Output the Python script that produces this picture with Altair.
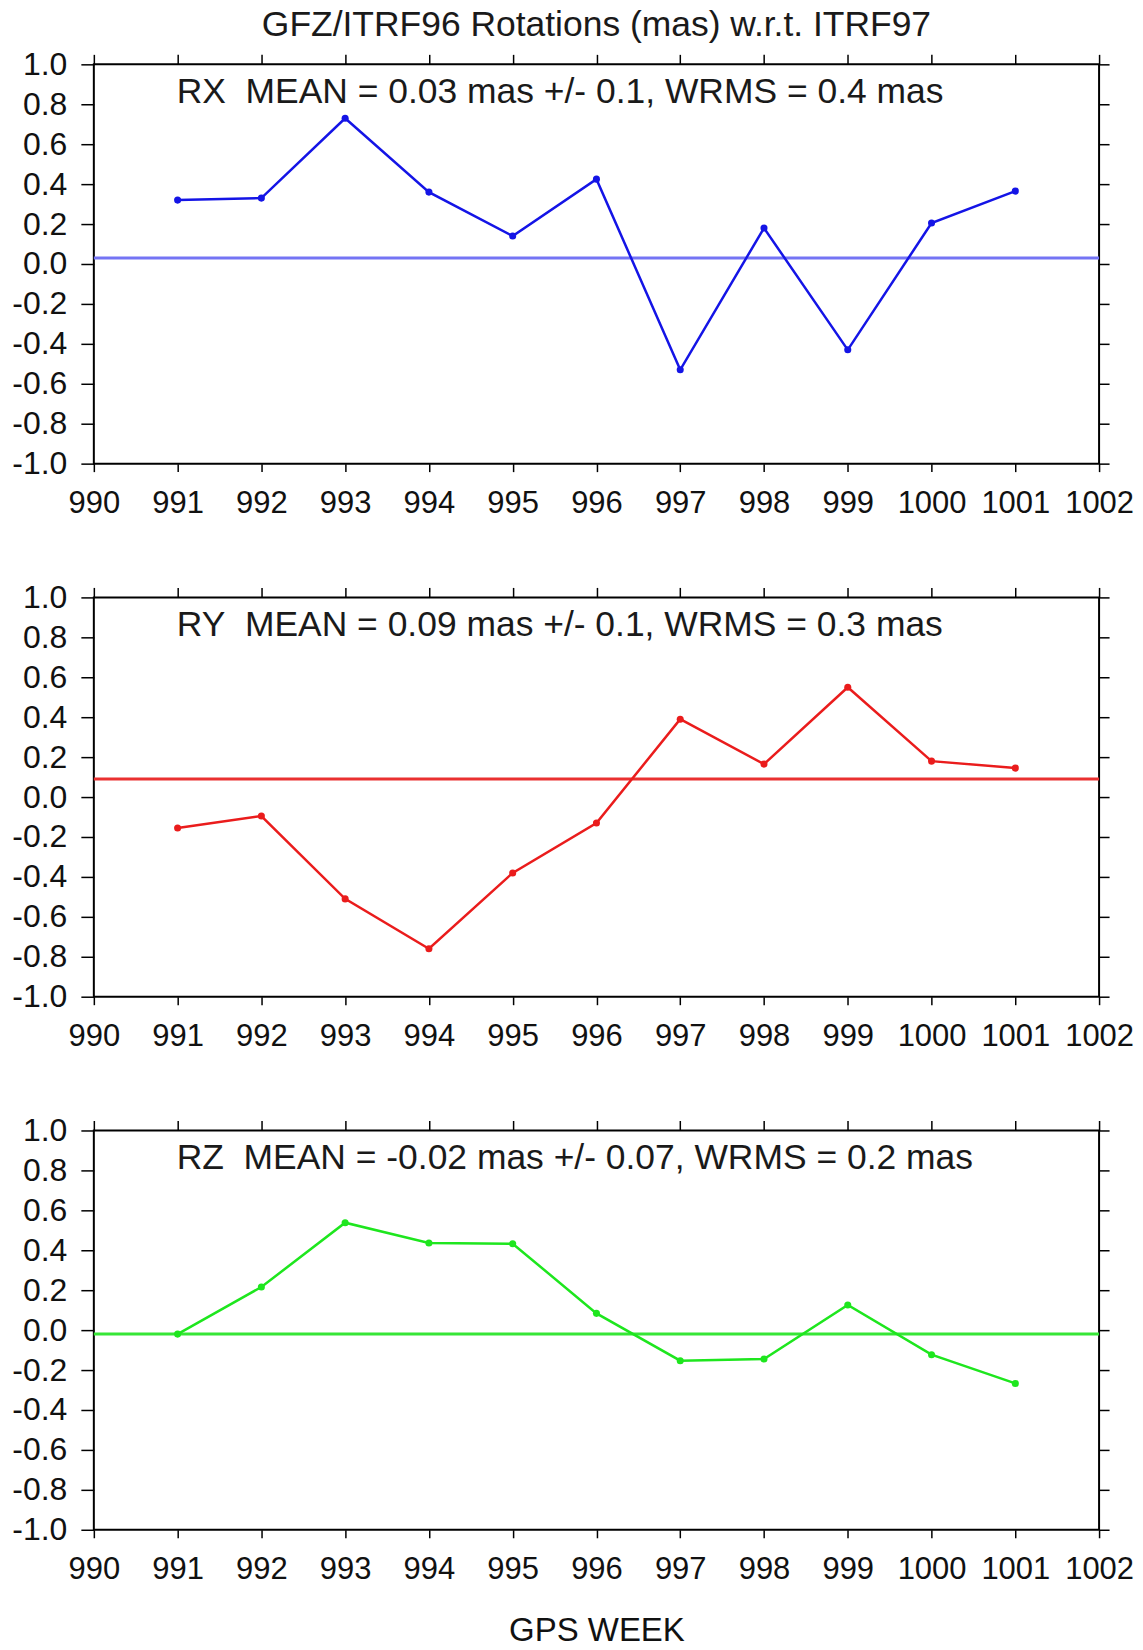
import altair as alt
import pandas as pd

# ---- data ----
weeks = [991, 992, 993, 994, 995, 996, 997, 998, 999, 1000, 1001]
rx = [0.32, 0.33, 0.73, 0.36, 0.14, 0.425, -0.53, 0.18, -0.43, 0.205, 0.365]
ry = [-0.155, -0.095, -0.51, -0.76, -0.38, -0.13, 0.39, 0.165, 0.55, 0.18, 0.145]
rz = [-0.02, 0.216, 0.538, 0.436, 0.433, 0.084, -0.153, -0.145, 0.126, -0.123, -0.267]
means = [0.03, 0.09, -0.02]
labels = [
    "RX\u00a0 MEAN = 0.03 mas +/- 0.1, WRMS = 0.4 mas",
    "RY\u00a0 MEAN = 0.09 mas +/- 0.1, WRMS = 0.3 mas",
    "RZ\u00a0 MEAN = -0.02 mas +/- 0.07, WRMS = 0.2 mas",
]
line_colors = ["#1414e6", "#ea1c1c", "#1ee61e"]
mean_colors = ["#7474f4", "#ea3030", "#36e636"]
x_ticks = list(range(990, 1003))
y_ticks = [-1.0, -0.8, -0.6, -0.4, -0.2, 0.0, 0.2, 0.4, 0.6, 0.8, 1.0]
main_title = "GFZ/ITRF96 Rotations (mas) w.r.t. ITRF97"
x_title = "GPS WEEK"

FONT = "Liberation Sans"
W, H = 1007, 400

xs = alt.Scale(domain=[990, 1002], nice=False, zero=False)
ys = alt.Scale(domain=[-1, 1], nice=False, zero=False)
ylab = "replace(format(datum.value, '.1f'), '\u2212', '-')"


def panel(vals, mean, label, lc, mc, show_xtitle, title=None):
    df = pd.DataFrame({"week": weeks, "value": vals})
    x_axis = alt.Axis(values=x_ticks, format="d", labelFontSize=31, tickSize=8,
                      labelPadding=17, labelOverlap=False, labelFlush=False,
                      title=x_title if show_xtitle else None,
                      titleFontSize=33, titleFontWeight="normal", titlePadding=30,
                      titleFont=FONT, titleColor="#111111")
    y_axis = alt.Axis(values=y_ticks, labelExpr=ylab, labelFontSize=32, tickSize=13,
                      labelPadding=14, labelOverlap=False, labelFlush=False, title=None)
    line = alt.Chart(df).mark_line(
        color=lc, strokeWidth=2.5,
        point=alt.OverlayMarkDef(filled=True, size=50, color=lc, opacity=1),
    ).encode(
        x=alt.X("week:Q", scale=xs, axis=x_axis),
        y=alt.Y("value:Q", scale=ys, axis=y_axis),
    )
    ghost = alt.Chart(df).mark_point(opacity=0).encode(
        x=alt.X("week:Q", scale=xs, axis=alt.Axis(values=x_ticks, orient="top", labels=False,
                                                 tickSize=10, title=None)),
        y=alt.Y("value:Q", scale=ys, axis=alt.Axis(values=y_ticks, orient="right", labels=False,
                                                  tickSize=10, title=None)),
    )
    rule = alt.Chart(pd.DataFrame({"mean": [mean]})).mark_rule(
        color=mc, strokeWidth=3
    ).encode(y=alt.Y("mean:Q", scale=ys, axis=None))
    text = alt.Chart(pd.DataFrame({"label": [label]})).mark_text(
        align="left", baseline="alphabetic", fontSize=35.5, font=FONT, color="#1a1a1a"
    ).encode(x=alt.value(83), y=alt.value(39), text="label:N")
    ch = alt.layer(rule, line, ghost, text).resolve_axis(x="independent", y="independent")
    props = dict(width=W, height=H)
    if title:
        props["title"] = alt.TitleParams(title, fontSize=35.5, font=FONT, fontWeight="normal",
                                         anchor="middle", offset=5, color="#1a1a1a")
    return ch.properties(**props)


p1 = panel(rx, means[0], labels[0], line_colors[0], mean_colors[0], False, main_title)
p2 = panel(ry, means[1], labels[1], line_colors[1], mean_colors[1], False)
p3 = panel(rz, means[2], labels[2], line_colors[2], mean_colors[2], True)

chart = alt.vconcat(p1, p2, p3, spacing=134, bounds="flush").properties(
    padding={"left": 10, "top": 5, "right": 8, "bottom": 8},
    background="white",
).configure_view(
    stroke="black", strokeWidth=2
).configure_axis(
    grid=False, domain=False, tickColor="black", tickWidth=1.5,
    labelFont=FONT, labelColor="#111111",
)

chart.save("out.html", embed_options={"renderer": "svg", "actions": False})
